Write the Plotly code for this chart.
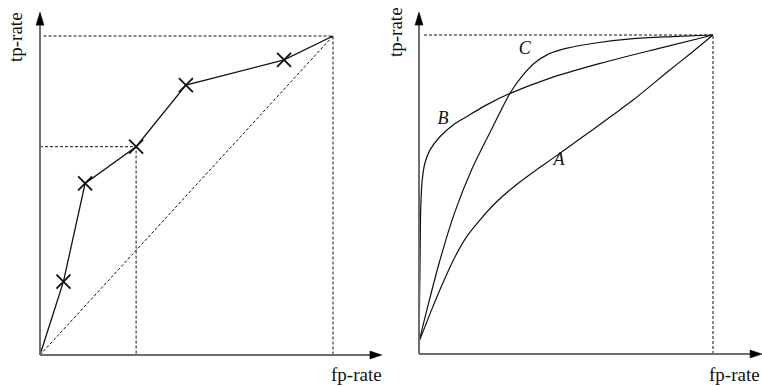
import plotly.graph_objects as go

W, H = 762, 386

# ---- left panel: discrete classifier points joined into a ROC curve ----
roc_fp = [0.0, 0.080, 0.154, 0.328, 0.498, 0.833, 1.0]
roc_tp = [0.0, 0.230, 0.538, 0.653, 0.846, 0.925, 1.0]
marker_fp = roc_fp[1:-1]
marker_tp = roc_tp[1:-1]
guide_fp = 0.328   # operating point highlighted with dashed guides
guide_tp = 0.653

# ---- right panel: three continuous ROC curves ----
a_fp = [0.0, 0.02, 0.045, 0.08, 0.12, 0.16, 0.207, 0.265, 0.33, 0.40, 0.456, 0.55, 0.65,
        0.728, 0.85, 0.93, 1.0]
a_tp = [0.038, 0.085, 0.143, 0.22, 0.30, 0.365, 0.42, 0.478, 0.53, 0.578, 0.614, 0.676,
        0.743, 0.796, 0.888, 0.947, 1.0]
b_fp = [0.0, 0.002, 0.004, 0.006, 0.011, 0.020, 0.037, 0.071, 0.116, 0.162, 0.230, 0.310,
        0.446, 0.616, 0.820, 1.0]
b_tp = [0.038, 0.17, 0.326, 0.462, 0.545, 0.598, 0.639, 0.681, 0.718, 0.744, 0.781, 0.817,
        0.865, 0.911, 0.959, 1.0]
c_fp = [0.0, 0.03, 0.07, 0.12, 0.18, 0.25, 0.31, 0.35, 0.39, 0.44, 0.50, 0.60, 0.72, 0.86, 1.0]
c_tp = [0.038, 0.15, 0.29, 0.44, 0.58, 0.71, 0.818, 0.87, 0.91, 0.94, 0.958, 0.975, 0.988,
        0.995, 1.0]
curve_labels = ["A", "B", "C"]
label_fp = [0.476, 0.082, 0.36]
label_tp = [0.608, 0.734, 0.953]

INK = "#111111"
AXIS = "#6e6e6e"
DASH = "3px,2px"
SERIF = "Liberation Serif, Times New Roman, serif"

fig = go.Figure()

# left panel traces
fig.add_trace(go.Scatter(x=[0, 1], y=[0, 1], mode="lines", xaxis="x", yaxis="y",
                         line=dict(color=INK, width=1, dash=DASH), hoverinfo="skip"))
fig.add_trace(go.Scatter(x=[0, guide_fp, guide_fp], y=[guide_tp, guide_tp, 0], mode="lines",
                         xaxis="x", yaxis="y", line=dict(color=INK, width=1, dash=DASH)))
fig.add_trace(go.Scatter(x=[0.012, 1, 1], y=[1, 1, 0], mode="lines", xaxis="x", yaxis="y",
                         line=dict(color=INK, width=1, dash=DASH)))
fig.add_trace(go.Scatter(x=roc_fp, y=roc_tp, mode="lines", xaxis="x", yaxis="y",
                         line=dict(color=INK, width=1.3)))
fig.add_trace(go.Scatter(x=marker_fp, y=marker_tp, mode="markers", xaxis="x", yaxis="y",
                         marker=dict(symbol="x-thin-open", size=14, color=INK,
                                     line=dict(color=INK, width=1.8))))

# right panel traces
fig.add_trace(go.Scatter(x=[0.017, 1, 1], y=[1, 1, 0], mode="lines", xaxis="x2", yaxis="y2",
                         line=dict(color=INK, width=1, dash=DASH)))
for xs, ys in [(a_fp, a_tp), (b_fp, b_tp), (c_fp, c_tp)]:
    fig.add_trace(go.Scatter(x=xs, y=ys, mode="lines", xaxis="x2", yaxis="y2",
                             line=dict(color=INK, width=1.2, shape="spline", smoothing=0.9)))
fig.add_trace(go.Scatter(x=label_fp, y=label_tp, mode="text", text=curve_labels,
                         xaxis="x2", yaxis="y2", cliponaxis=False,
                         textfont=dict(family=SERIF, size=18, color=INK, style="italic")))

# axis lines with arrowheads, in each panel's data coordinates
shapes = []
def add_axes(xref, yref, x_end, x_tip, y_end, y_tip, hx, hy):
    shapes.append(dict(type="line", xref=xref, yref=yref, x0=0, y0=0, x1=x_end, y1=0,
                       line=dict(color=AXIS, width=2)))
    shapes.append(dict(type="line", xref=xref, yref=yref, x0=0, y0=0, x1=0, y1=y_end,
                       line=dict(color=AXIS, width=2)))
    shapes.append(dict(type="path", xref=xref, yref=yref, fillcolor="black",
                       line=dict(color="black", width=0.5),
                       path=f"M {x_end},{-hy} L {x_tip},0 L {x_end},{hy} Z"))
    shapes.append(dict(type="path", xref=xref, yref=yref, fillcolor="black",
                       line=dict(color="black", width=0.5),
                       path=f"M {-hx},{y_end} L 0,{y_tip} L {hx},{y_end} Z"))

add_axes("x", "y", 1.126, 1.167, 1.034, 1.075, 4 / 293, 4 / 319)
add_axes("x2", "y2", 1.126, 1.167, 1.031, 1.072, 4 / 294, 4 / 319)

# axis captions
font = dict(family=SERIF, size=19, color=INK)
def caption(text, px, py, angle=0, xanchor="center"):
    return dict(text=text, x=px / W, y=1 - py / H, xref="paper", yref="paper",
                xanchor=xanchor, yanchor="middle", textangle=angle,
                showarrow=False, font=font)

annotations = [
    caption("tp-rate", 15, 37, -90),
    caption("tp-rate", 396, 32, -90),
    caption("fp-rate", 356, 374),
    caption("fp-rate", 762, 374, xanchor="right"),
]

hidden = dict(visible=False, showgrid=False, zeroline=False, fixedrange=True)
fig.update_layout(
    width=W, height=H, margin=dict(l=0, r=0, t=0, b=0),
    paper_bgcolor="white", plot_bgcolor="rgba(0,0,0,0)", showlegend=False,
    xaxis=dict(domain=[0, 390 / W], range=[-40 / 293, 350 / 293], **hidden),
    yaxis=dict(domain=[0, 1], range=[-31 / 319, 355 / 319], **hidden),
    xaxis2=dict(domain=[390 / W, 1], range=[-29 / 294, 343 / 294], **hidden),
    yaxis2=dict(domain=[0, 1], range=[-32 / 319, 354 / 319], anchor="x2", **hidden),
    shapes=shapes, annotations=annotations,
)

fig.write_html("out.html")
